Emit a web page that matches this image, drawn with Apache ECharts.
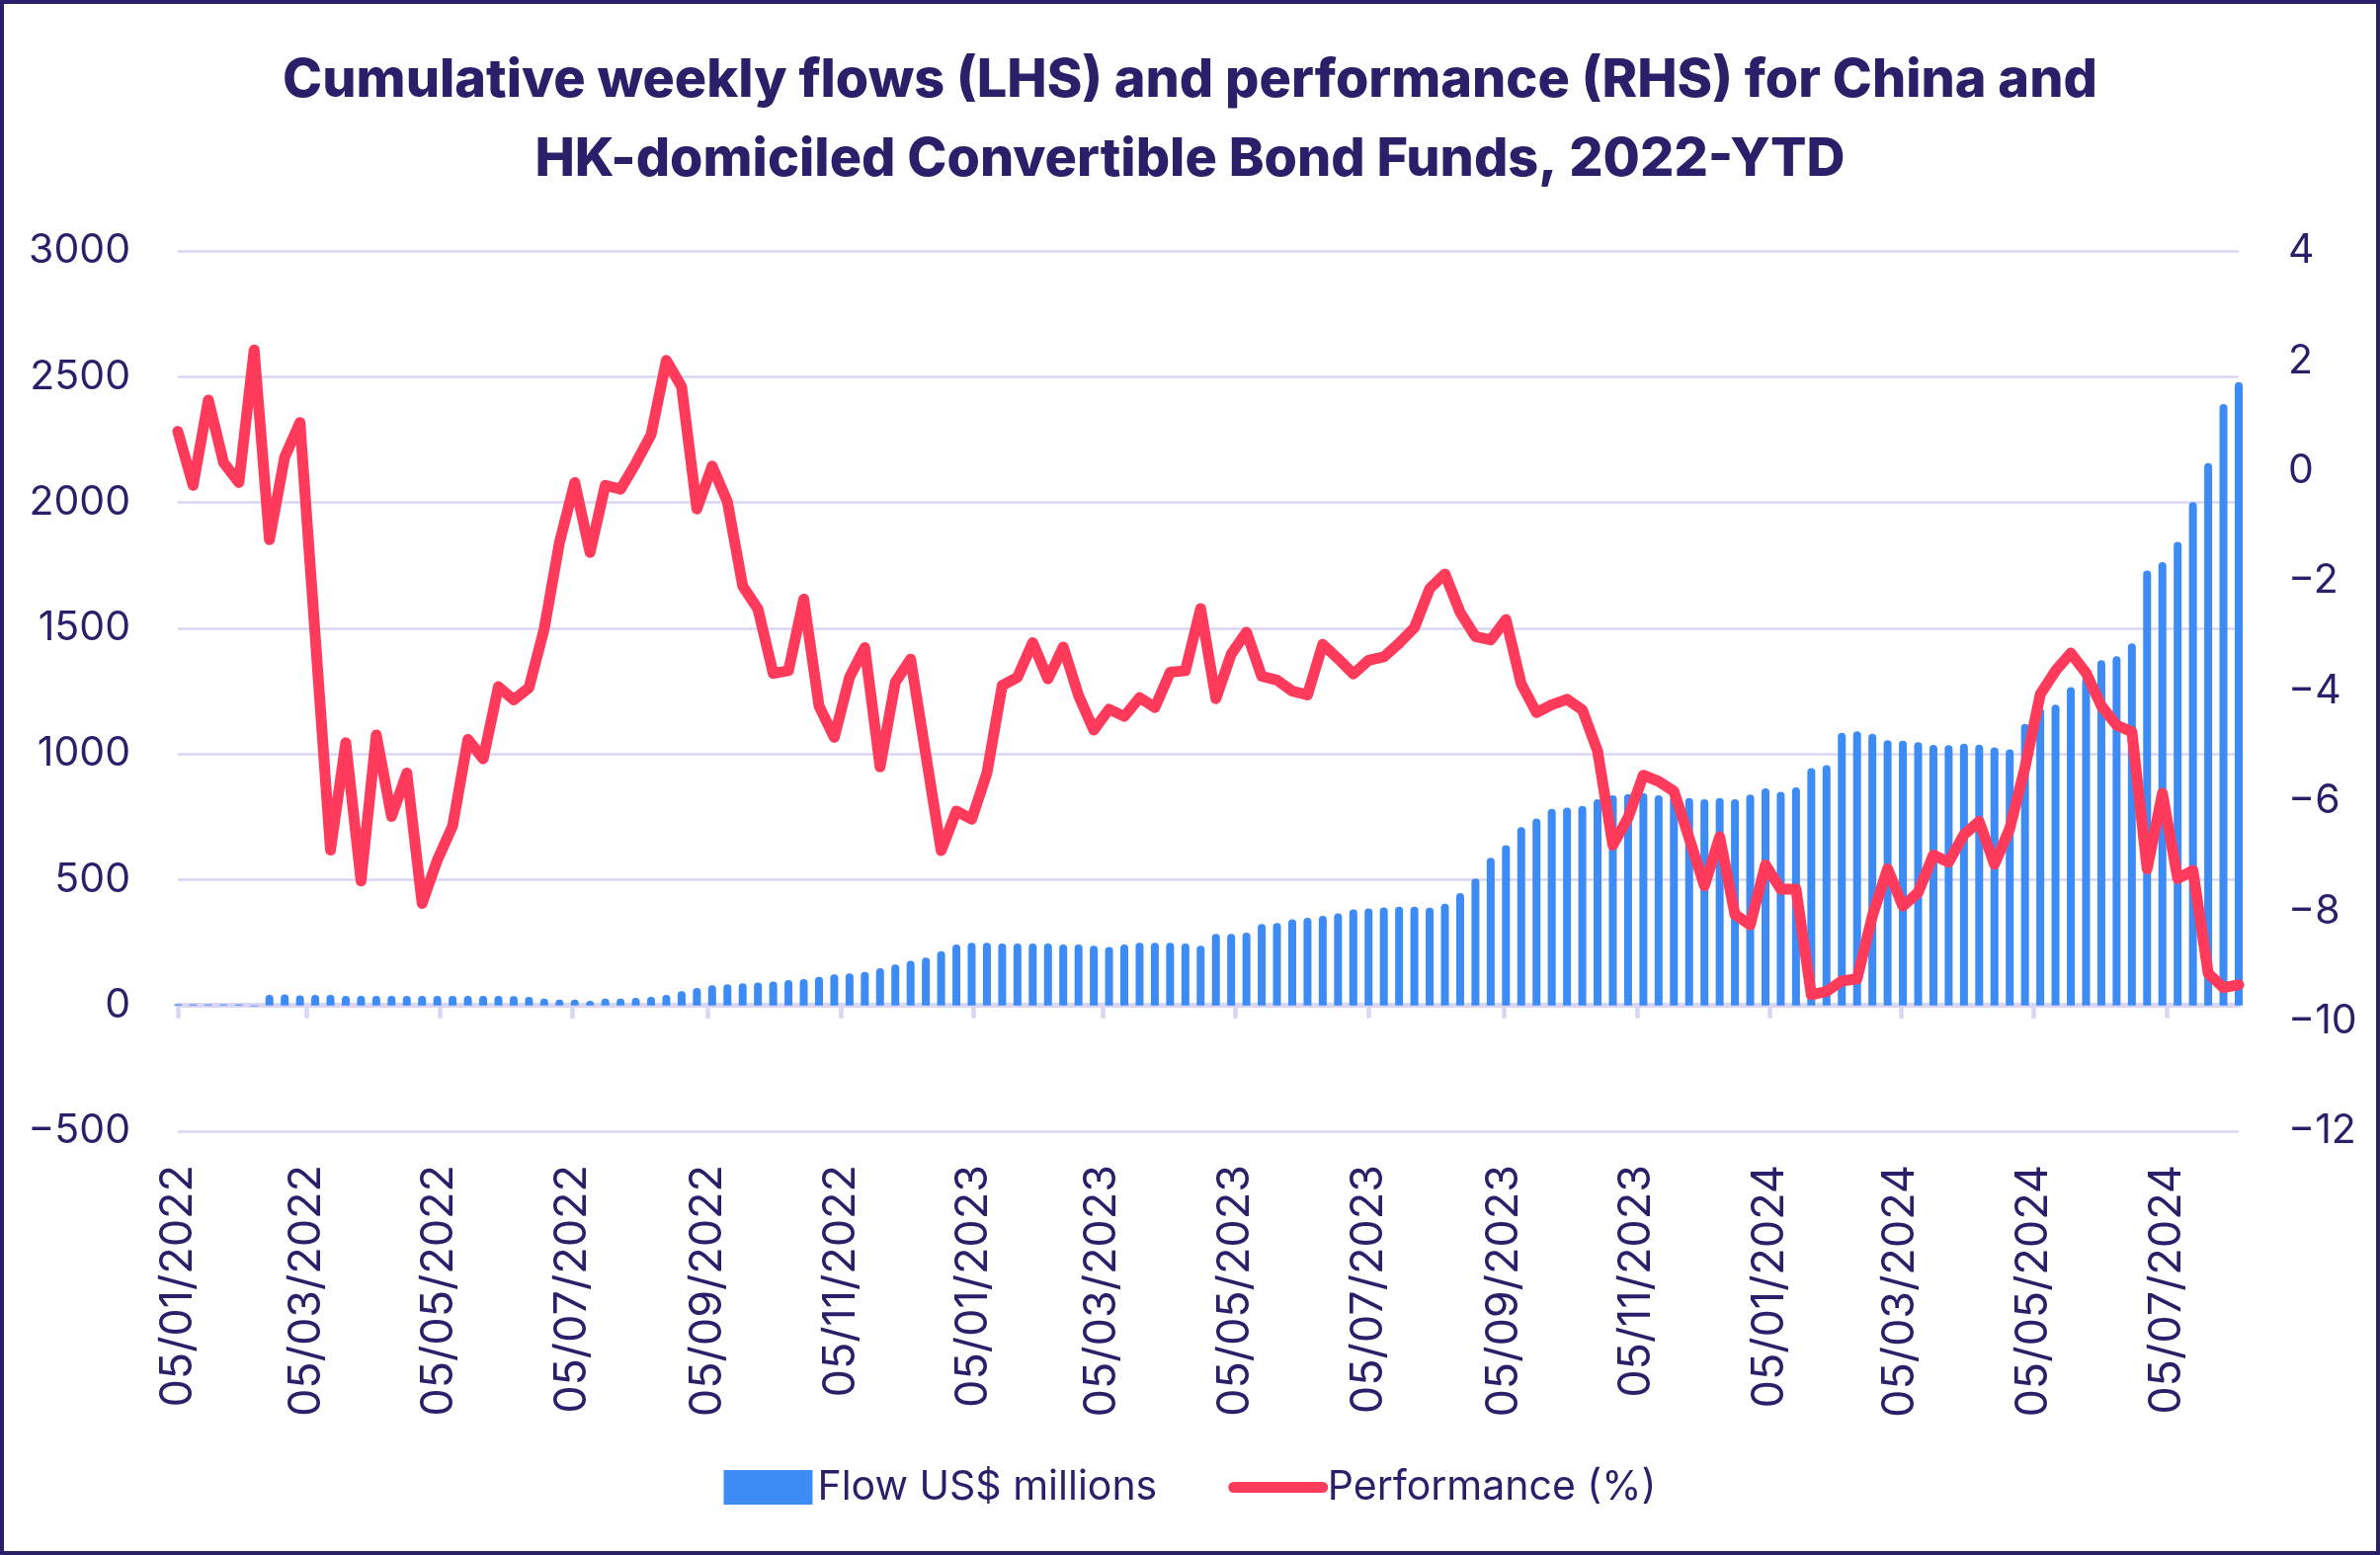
<!DOCTYPE html>
<html><head><meta charset="utf-8">
<script src="https://cdn.jsdelivr.net/npm/echarts@6/dist/echarts.min.js"></script>
<style>
html,body{margin:0;padding:0;background:#fff;}
#chart{width:2409px;height:1574px;box-sizing:border-box;border:4px solid #2a1f69;background:#fff;}
</style></head>
<body><div id="chart"></div>
<script>
const weekDates = [
'2022-01-05','2022-01-12','2022-01-19','2022-01-26','2022-02-02','2022-02-09','2022-02-16','2022-02-23','2022-03-02','2022-03-09',
'2022-03-16','2022-03-23','2022-03-30','2022-04-06','2022-04-13','2022-04-20','2022-04-27','2022-05-04','2022-05-11','2022-05-18',
'2022-05-25','2022-06-01','2022-06-08','2022-06-15','2022-06-22','2022-06-29','2022-07-06','2022-07-13','2022-07-20','2022-07-27',
'2022-08-03','2022-08-10','2022-08-17','2022-08-24','2022-08-31','2022-09-07','2022-09-14','2022-09-21','2022-09-28','2022-10-05',
'2022-10-12','2022-10-19','2022-10-26','2022-11-02','2022-11-09','2022-11-16','2022-11-23','2022-11-30','2022-12-07','2022-12-14',
'2022-12-21','2022-12-28','2023-01-04','2023-01-11','2023-01-18','2023-01-25','2023-02-01','2023-02-08','2023-02-15','2023-02-22',
'2023-03-01','2023-03-08','2023-03-15','2023-03-22','2023-03-29','2023-04-05','2023-04-12','2023-04-19','2023-04-26','2023-05-03',
'2023-05-10','2023-05-17','2023-05-24','2023-05-31','2023-06-07','2023-06-14','2023-06-21','2023-06-28','2023-07-05','2023-07-12',
'2023-07-19','2023-07-26','2023-08-02','2023-08-09','2023-08-16','2023-08-23','2023-08-30','2023-09-06','2023-09-13','2023-09-20',
'2023-09-27','2023-10-04','2023-10-11','2023-10-18','2023-10-25','2023-11-01','2023-11-08','2023-11-15','2023-11-22','2023-11-29',
'2023-12-06','2023-12-13','2023-12-20','2023-12-27','2024-01-03','2024-01-10','2024-01-17','2024-01-24','2024-01-31','2024-02-07',
'2024-02-14','2024-02-21','2024-02-28','2024-03-06','2024-03-13','2024-03-20','2024-03-27','2024-04-03','2024-04-10','2024-04-17',
'2024-04-24','2024-05-01','2024-05-08','2024-05-15','2024-05-22','2024-05-29','2024-06-05','2024-06-12','2024-06-19','2024-06-26',
'2024-07-03','2024-07-10','2024-07-17','2024-07-24','2024-07-31','2024-08-07'
];
const flowValues = [
5, 4, 4, 4, 4, -3, 42, 44, 40, 42,
42, 38, 38, 38, 38, 38, 38, 38, 38, 38,
38, 38, 37, 34, 27, 23, 23, 19, 27, 27,
30, 34, 42, 57, 70, 80, 84, 88, 91, 95,
101, 105, 114, 124, 128, 133, 148, 163, 178, 190,
216, 242, 249, 249, 246, 246, 246, 246, 242, 242,
238, 233, 242, 249, 249, 249, 246, 238, 285, 285,
290, 324, 328, 343, 348, 356, 366, 382, 386, 390,
393, 393, 389, 404, 447, 505, 587, 637, 709, 743,
782, 786, 793, 820, 836, 840, 844, 836, 833, 825,
820, 825, 820, 839, 863, 849, 867, 944, 955, 1084,
1090, 1080, 1055, 1053, 1047, 1036, 1035, 1041, 1037, 1026,
1018, 1119, 1181, 1196, 1266, 1303, 1373, 1388, 1440, 1729,
1763, 1843, 2001, 2156, 2391, 2479
];
const performanceValues = [
0.72, -0.26, 1.29, 0.15, -0.21, 2.20, -1.25, 0.25, 0.88, -3.0,
-6.89, -4.94, -7.45, -4.80, -6.28, -5.49, -7.86, -7.07, -6.45, -4.88,
-5.23, -3.92, -4.16, -3.94, -2.87, -1.30, -0.21, -1.48, -0.26, -0.33,
0.14, 0.66, 2.01, 1.53, -0.69, 0.09, -0.56, -2.09, -2.51, -3.68,
-3.63, -2.33, -4.27, -4.84, -3.75, -3.21, -5.38, -3.84, -3.42, -5.16,
-6.90, -6.18, -6.33, -5.49, -3.90, -3.75, -3.12, -3.78, -3.20, -4.08,
-4.71, -4.33, -4.46, -4.12, -4.30, -3.66, -3.63, -2.50, -4.14, -3.33,
-2.93, -3.73, -3.80, -4.00, -4.07, -3.15, -3.41, -3.69, -3.44, -3.38,
-3.13, -2.85, -2.14, -1.87, -2.57, -3.01, -3.07, -2.70, -3.87, -4.39,
-4.25, -4.15, -4.34, -5.09, -6.80, -6.30, -5.53, -5.64, -5.82, -6.67,
-7.54, -6.65, -8.06, -8.25, -7.16, -7.60, -7.60, -9.52, -9.46, -9.27,
-9.23, -8.09, -7.23, -7.91, -7.66, -6.98, -7.11, -6.61, -6.37, -7.15,
-6.50, -5.39, -4.06, -3.63, -3.31, -3.67, -4.27, -4.62, -4.74, -7.23,
-5.86, -7.41, -7.26, -9.13, -9.39, -9.34
];
const dateTickLabels = ['05/01/2022','05/03/2022','05/05/2022','05/07/2022','05/09/2022','05/11/2022',
'05/01/2023','05/03/2023','05/05/2023','05/07/2023','05/09/2023','05/11/2023',
'05/01/2024','05/03/2024','05/05/2024','05/07/2024'];
const flowAxisRange = [-500, 3000, 500];
const perfAxisRange = [-12, 4, 2];

function toTime(iso){ const p = iso.split('-'); return Date.UTC(+p[0], +p[1]-1, +p[2]); }
function labelToTime(s){ const p = s.split('/'); return Date.UTC(+p[2], +p[1]-1, +p[0]); }
function pad(n){ return (n < 10 ? '0' : '') + n; }
function fmtDate(v){ const d = new Date(v); return pad(d.getUTCDate()) + '/' + pad(d.getUTCMonth()+1) + '/' + d.getUTCFullYear(); }
function fmtNum(v){ return String(v).replace('-', '\u2212'); }

const weekTimes = weekDates.map(toTime);
const tickTimes = dateTickLabels.map(labelToTime);
const xMin = weekTimes[0], xMax = weekTimes[weekTimes.length - 1];

const navy = '#2a1f69', lav = '#d9d5f3', blue = '#3d8bf5', red = '#ff3a5a';
const font = 'Inter, "Noto Sans", sans-serif';

const baseX = { type: 'value', min: xMin, max: xMax, position: 'bottom', splitLine: { show: false } };

const chart = echarts.init(document.getElementById('chart'));
chart.setOption({
  animation: false,
  textStyle: { fontFamily: font },
  title: {
    text: 'Cumulative weekly flows (LHS) and performance (RHS) for China and\nHK-domiciled Convertible Bond Funds, 2022-YTD',
    left: 'center', top: 33,
    textStyle: { fontFamily: font, fontSize: 54, fontWeight: 800, color: navy, lineHeight: 80 }
  },
  legend: {
    left: 'center', top: 1476, itemWidth: 90, itemHeight: 35, itemGap: 72,
    textStyle: { fontFamily: font, fontSize: 41, color: navy },
    data: [
      { name: 'Flow US$ millions', icon: 'rect' },
      { name: 'Performance (%)', itemStyle: { opacity: 0 }, lineStyle: { width: 11, cap: 'round' } }
    ]
  },
  grid: { left: 176, right: 139, top: 250, bottom: 425 },
  xAxis: [
    Object.assign({}, baseX, {
      axisLine: { show: false, onZero: false }, axisTick: { show: false },
      axisLabel: { customValues: tickTimes, formatter: fmtDate, rotate: 90, margin: 34, fontSize: 45, color: navy, fontFamily: font }
    }),
    Object.assign({}, baseX, {
      axisLine: { show: true, onZero: true, onZeroAxisIndex: 0, lineStyle: { color: lav, width: 5 } },
      axisTick: { show: true, customValues: tickTimes, length: 13, lineStyle: { color: lav, width: 4.5 } },
      axisLabel: { show: false }
    }),
    Object.assign({}, baseX, {
      axisLine: { show: false, onZero: true, onZeroAxisIndex: 0 },
      axisTick: { show: true, customValues: weekTimes, length: 2, lineStyle: { color: lav, width: 2 } },
      axisLabel: { show: false }
    })
  ],
  yAxis: [
    {
      type: 'value', position: 'left', min: flowAxisRange[0], max: flowAxisRange[1], interval: flowAxisRange[2],
      axisLine: { show: false }, axisTick: { show: false },
      splitLine: { lineStyle: { color: lav, width: 2.7 } },
      axisLabel: { margin: 48, fontSize: 41, color: navy, fontFamily: font, formatter: fmtNum }
    },
    {
      type: 'value', position: 'right', min: perfAxisRange[0], max: perfAxisRange[1], interval: perfAxisRange[2],
      axisLine: { show: false }, axisTick: { show: false }, splitLine: { show: false },
      axisLabel: { margin: 50, fontSize: 41, color: navy, fontFamily: font, formatter: fmtNum }
    }
  ],
  series: [
    {
      name: 'Flow US$ millions', type: 'bar', xAxisIndex: 0, yAxisIndex: 0,
      data: weekTimes.map((t, i) => [t, flowValues[i]]),
      barWidth: 8, clip: false,
      itemStyle: { color: blue, borderRadius: [4, 4, 0, 0] }
    },
    {
      name: 'Performance (%)', type: 'line', xAxisIndex: 0, yAxisIndex: 1,
      data: weekTimes.map((t, i) => [t, performanceValues[i]]),
      symbol: 'none', showSymbol: false, clip: false, z: 3,
      lineStyle: { color: red, width: 11, cap: 'round', join: 'round' },
      emphasis: { disabled: true },
      itemStyle: { color: red }
    }
  ]
});
</script>
</body></html>
